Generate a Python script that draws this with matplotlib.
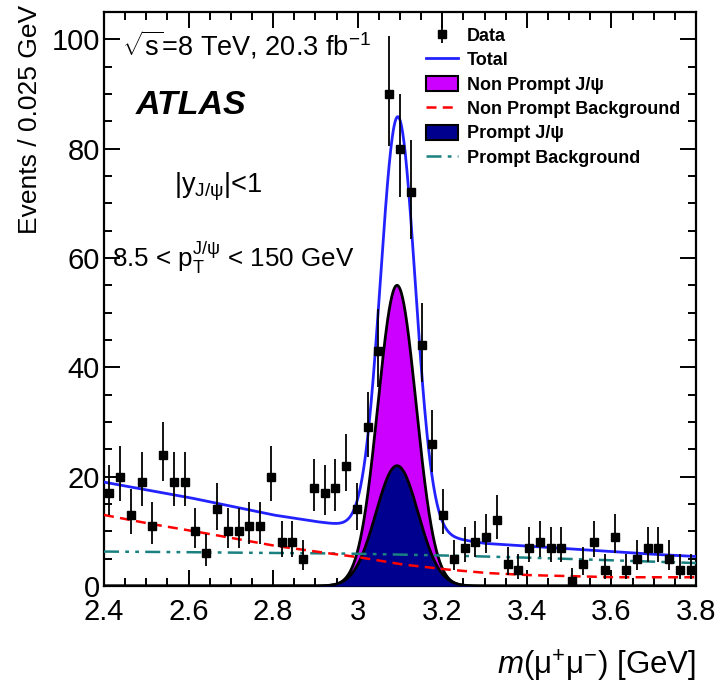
import math
import numpy as np
import matplotlib
matplotlib.use("Agg")
import matplotlib.pyplot as plt
from matplotlib.lines import Line2D
from matplotlib.patches import Patch
from matplotlib.ticker import MultipleLocator, FormatStrFormatter

# ---------------- data ----------------
x_min, x_max = 2.4, 3.8
counts = [17, 20, 13, 19, 11, 24, 19, 19, 10, 6, 14, 10, 10, 11, 11, 20, 8, 8, 5,
          18, 17, 18, 22, 14, 29, 43, 90, 80, 72, 44, 26, 13,
          5, 7, 8, 9, 12, 4, 3, 7, 8, 7, 7, 1, 4, 8, 3, 9, 3, 5, 7, 7, 5, 3, 3]

# background curves read at these masses
curve_x = [2.4, 2.5, 2.6, 2.7, 2.8, 2.9, 3.0, 3.1, 3.2, 3.3, 3.4, 3.5, 3.6, 3.7, 3.8]
nonprompt_bkg = [13.0, 11.5, 10.2, 8.8, 7.4, 6.3, 5.3, 4.0, 3.1, 2.4, 2.0, 1.8, 1.6, 1.6, 1.6]
prompt_bkg = [6.3, 6.25, 6.2, 6.1, 6.05, 6.0, 5.9, 5.75, 5.6, 5.4, 5.2, 4.95, 4.7, 4.45, 4.2]
total_continuum = [19.0, 17.6, 16.2, 14.6, 13.0, 11.8, 10.8, 9.8, 9.0, 7.8, 7.3, 6.8, 6.3, 5.8, 5.4]

# peak shapes: (centre, width, height)
total_peak = (3.095, 0.041, 76.0)
nonprompt_jpsi = (3.093, 0.045, 55.0)
prompt_jpsi = (3.093, 0.050, 22.0)

x_ticks = [2.4, 2.6, 2.8, 3.0, 3.2, 3.4, 3.6, 3.8]
y_ticks = [0, 20, 40, 60, 80, 100]

# ---------------- helpers ----------------
def pois_cdf(k, mu):
    if k < 0:
        return 0.0
    if mu <= 0:
        return 1.0
    s = 0.0
    for i in range(k + 1):
        s += math.exp(-mu + i * math.log(mu) - math.lgamma(i + 1))
    return s

def bisect(f, lo, hi, n=80):
    # f > 0 means the root lies above mid
    for _ in range(n):
        mid = 0.5 * (lo + hi)
        if f(mid) > 0:
            lo = mid
        else:
            hi = mid
    return 0.5 * (lo + hi)

alpha = 0.158655
err_lo, err_hi = [], []
for n in counts:
    up = bisect(lambda m: pois_cdf(n, m) - alpha, 0.0, n + 40)
    if n == 0:
        lo = 0.0
    else:
        lo = bisect(lambda m: pois_cdf(n - 1, m) - (1 - alpha), 0.0, n + 40)
    err_lo.append(max(n - lo, 0.0))
    err_hi.append(max(up - n, 0.0))

nb = len(counts)
width = (x_max - x_min) / nb
centers = x_min + width * (np.arange(nb) + 0.5)

def gauss(x, p):
    mu, s, a = p
    return a * np.exp(-0.5 * ((x - mu) / s) ** 2)

xf = np.linspace(x_min, x_max, 1400)
np_bkg_f = np.interp(xf, curve_x, nonprompt_bkg)
p_bkg_f = np.interp(xf, curve_x, prompt_bkg)
total_f = np.interp(xf, curve_x, total_continuum) + gauss(xf, total_peak)
np_sig_f = gauss(xf, nonprompt_jpsi)
p_sig_f = gauss(xf, prompt_jpsi)

# ---------------- figure ----------------
plt.rcParams['font.family'] = ['Liberation Sans', 'DejaVu Sans']
plt.rcParams['mathtext.fontset'] = 'custom'
plt.rcParams['mathtext.rm'] = 'Liberation Sans'
plt.rcParams['mathtext.it'] = 'Liberation Sans:italic'
plt.rcParams['mathtext.bf'] = 'Liberation Sans:bold'

W, H = 720, 686
fig = plt.figure(figsize=(W / 100, H / 100), dpi=100)
ax = fig.add_axes([104 / W, 100 / H, 592 / W, 574 / H])

magenta = '#cc00ff'
navy = '#00008f'
teal = '#1a8080'
blue = '#2222ff'

ax.fill_between(xf, 0, np_sig_f, color=magenta, lw=0, zorder=2)
ax.plot(xf, np_sig_f, color='black', lw=2.0, zorder=3)
ax.fill_between(xf, 0, p_sig_f, color=navy, lw=0, zorder=4)
ax.plot(xf, p_sig_f, color='black', lw=2.0, zorder=5)

ax.plot(xf, p_bkg_f, color=teal, lw=1.8, dashes=(6, 2.5, 1.5, 2.5, 1.5, 2.5), zorder=6)
ax.plot(xf, np_bkg_f, color='red', lw=1.8, dashes=(4, 2.5), zorder=6)
ax.plot(xf, total_f, color=blue, lw=2.0, zorder=7)

eb = ax.errorbar(centers, counts, yerr=[err_lo, err_hi], fmt='s', color='black',
                 ms=5.3, elinewidth=1.3, capsize=0, zorder=8)

ax.set_xlim(x_min, x_max)
ax.set_ylim(0, 105)
ax.set_xticks(x_ticks)
ax.xaxis.set_major_formatter(FormatStrFormatter('%g'))
ax.set_yticks(y_ticks)
ax.xaxis.set_minor_locator(MultipleLocator(0.05))
ax.yaxis.set_minor_locator(MultipleLocator(5))
ax.tick_params(which='both', direction='in', top=True, right=True, width=1.4,
               labelsize=21)
ax.tick_params(axis='x', which='both', pad=9)
ax.tick_params(axis='y', which='both', pad=3)
ax.tick_params(which='major', length=11.5)
ax.tick_params(which='minor', length=5.8)
for sp in ax.spines.values():
    sp.set_linewidth(1.6)

ax.set_xlabel('$m$(μ$^{+}$μ$^{-}$) [GeV]', fontsize=22.5, loc='right')
ax.xaxis.set_label_coords(1.0, -0.108)
ax.set_ylabel('Events / 0.025 GeV', fontsize=19, loc='top')
ax.yaxis.set_label_coords(-0.104, 1.012)

def fpx(px, py):
    return px / W, 1 - py / H

fig.text(*fpx(122, 45), r'$\sqrt{\mathrm{s}}$=8 TeV, 20.3 fb$^{\mathrm{-1}}$', fontsize=19.5, va='center', ha='left')
fig.text(*fpx(136, 105), 'ATLAS', fontsize=24.5, fontweight='bold', fontstyle='italic', va='center', ha='left')
fig.text(*fpx(174, 187), r'|y$_{\mathrm{J/ψ}}$|<1', fontsize=19.5, va='center', ha='left')
fig.text(*fpx(112, 258), r'8.5 < p$_{\mathrm{T}}^{\mathrm{J/ψ}}$ < 150 GeV', fontsize=18.7, va='center', ha='left')

handles = [eb,
           Line2D([], [], color=blue, lw=2.0),
           Patch(facecolor=magenta, edgecolor='black', lw=1.5),
           Line2D([], [], color='red', lw=1.8, dashes=(4, 2.5)),
           Patch(facecolor=navy, edgecolor='black', lw=1.5),
           Line2D([], [], color=teal, lw=1.8, dashes=(6, 2.5, 1.5, 2.5, 1.5, 2.5))]
labels = ['Data', 'Total', 'Non Prompt J/ψ', 'Non Prompt Background', 'Prompt J/ψ', 'Prompt Background']
leg = ax.legend(handles, labels, loc='upper left', bbox_to_anchor=fpx(426, 27),
                bbox_transform=fig.transFigure, frameon=False,
                prop={'weight': 'bold', 'size': 13}, handlelength=1.75,
                handleheight=0.9, handletextpad=0.5, labelspacing=0.37,
                borderpad=0, borderaxespad=0)

fig.savefig('out.png', dpi=100)
